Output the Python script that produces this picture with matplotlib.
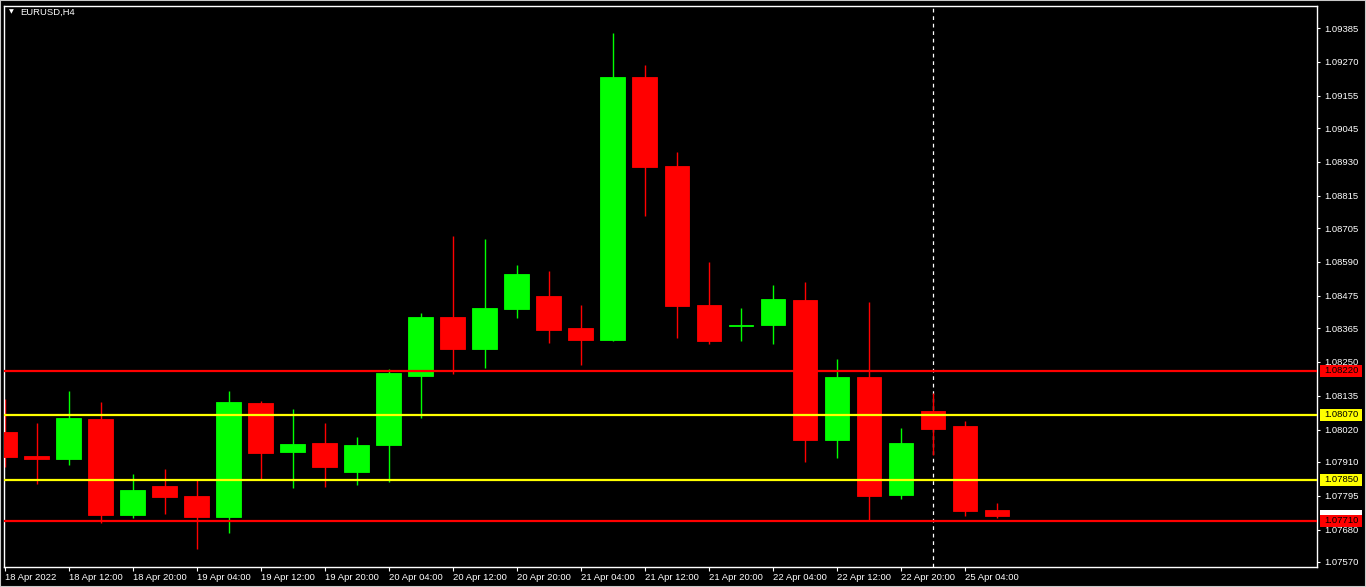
import matplotlib.pyplot as plt
from matplotlib.patches import Rectangle

plt.rcParams['font.family'] = ['Liberation Sans', 'DejaVu Sans']

symbol = 'EURUSD,H4'

# H4 bars, 18 Apr 04:00 .. 25 Apr 08:00
opens = [1.08012, 1.07930, 1.07920, 1.08056, 1.07730, 1.07828, 1.07794, 1.07723,
         1.08110, 1.07944, 1.07974, 1.07876, 1.07968, 1.08202, 1.08403, 1.08294,
         1.08430, 1.08474, 1.08365, 1.08325, 1.09218, 1.08916, 1.08443, 1.08372,
         1.08376, 1.08460, 1.07985, 1.08199, 1.07798, 1.08083, 1.08032, 1.07747]
highs = [1.08124, 1.08042, 1.08151, 1.08114, 1.07869, 1.07886, 1.07849, 1.08151,
         1.08117, 1.08090, 1.08042, 1.07995, 1.08226, 1.08416, 1.08678, 1.08668,
         1.08579, 1.08559, 1.08443, 1.09368, 1.09259, 1.08964, 1.08590, 1.08433,
         1.08511, 1.08522, 1.08260, 1.08454, 1.08025, 1.08144, 1.08049, 1.07771]
lows = [1.07893, 1.07835, 1.07900, 1.07703, 1.07720, 1.07733, 1.07614, 1.07669,
        1.07849, 1.07822, 1.07825, 1.07832, 1.07842, 1.08059, 1.08209, 1.08229,
        1.08399, 1.08314, 1.08240, 1.08321, 1.08746, 1.08331, 1.08311, 1.08321,
        1.08311, 1.07910, 1.07923, 1.07709, 1.07784, 1.07934, 1.07726, 1.07720]
closes = [1.07927, 1.07920, 1.08059, 1.07730, 1.07815, 1.07791, 1.07723, 1.08114,
          1.07940, 1.07971, 1.07893, 1.07968, 1.08212, 1.08403, 1.08294, 1.08433,
          1.08549, 1.08359, 1.08325, 1.09218, 1.08913, 1.08440, 1.08321, 1.08376,
          1.08464, 1.07985, 1.08199, 1.07794, 1.07974, 1.08022, 1.07743, 1.07726]

time_labels = ['18 Apr 2022', '18 Apr 12:00', '18 Apr 20:00', '19 Apr 04:00',
               '19 Apr 12:00', '19 Apr 20:00', '20 Apr 04:00', '20 Apr 12:00',
               '20 Apr 20:00', '21 Apr 04:00', '21 Apr 12:00', '21 Apr 20:00',
               '22 Apr 04:00', '22 Apr 12:00', '22 Apr 20:00', '25 Apr 04:00']

price_ticks = [1.09385, 1.09270, 1.09155, 1.09045, 1.08930, 1.08815, 1.08705,
               1.08590, 1.08475, 1.08365, 1.08250, 1.08135, 1.08020, 1.07910,
               1.07795, 1.07680, 1.07570]

levels = [1.08220, 1.08070, 1.07850, 1.07710]
level_colors = ['#ff0000', '#ffff00', '#ffff00', '#ff0000']
separator_bar = 29
bid = closes[-1]

W, H = 1366, 587
fig = plt.figure(figsize=(W / 100, H / 100), dpi=100, facecolor='black')
ax = fig.add_axes([4 / W, 20 / H, 1313 / W, 561 / H], facecolor='black')

up = '#00ff00'
down = '#ff0000'
for i in range(len(opens)):
    o, h, l, c = opens[i], highs[i], lows[i], closes[i]
    col = up if c >= o else down
    ax.vlines(i, l, h, color=col, lw=1, zorder=2)
    ax.bar(i, abs(c - o), bottom=min(o, c), width=0.78, color=col,
           edgecolor=col, linewidth=0.6, zorder=3)

for lv, col in zip(levels, level_colors):
    ax.axhline(lv, color=col, lw=1.6, zorder=4)

ax.axvline(separator_bar, color='white', lw=0.9, ls=(0, (3, 3)), zorder=1)

ax.set_xlim(-0.03, 41.0)
ax.set_ylim(1.07553, 1.09460)

ax.set_xticks(range(0, 32, 2))
ax.set_xticklabels(time_labels, ha='left')
ax.set_yticks(price_ticks)
ax.set_yticklabels(['%.5f' % p for p in price_ticks])
ax.yaxis.tick_right()
ax.tick_params(axis='both', colors='white', labelsize=6.8, width=0.8)
ax.tick_params(axis='y', length=2.5, pad=3)
ax.tick_params(axis='x', length=3, pad=1.5)
for s in ax.spines.values():
    s.set_color('white')
    s.set_linewidth(1)

# price tags of the lines on the right scale
tr = ax.get_yaxis_transform()
box_h = 12 * (1.09460 - 1.07553) / 561
box_x = (1320 - 4) / 1313
box_w = 42 / 1313
text_x = (1324 - 4) / 1313

# bid tag, almost fully hidden behind the 1.07710 tag
ax.add_patch(Rectangle((box_x, bid - box_h / 2), box_w, box_h, transform=tr,
                       fc='white', ec='none', clip_on=False, zorder=6))
for k, (lv, col) in enumerate(zip(levels, level_colors)):
    ax.add_patch(Rectangle((box_x, lv - box_h / 2), box_w, box_h, transform=tr,
                           fc=col, ec='none', clip_on=False, zorder=7 + k))
    ax.text(text_x, lv, '%.5f' % lv, transform=tr, ha='left', va='center',
            fontsize=6.8, color='black', clip_on=False, zorder=7 + k)

fig.text(9 / W, 1 - 12 / H, '\u25bc', color='white', fontsize=4.5,
         va='center', family='DejaVu Sans')
fig.text(20 / W, 1 - 12 / H, symbol, color='white', fontsize=6.8, va='center')

fig.add_artist(Rectangle((0, 0), 1, 1, transform=fig.transFigure, fill=False,
                         ec='#c8c8c8', lw=1.5))

fig.savefig('out.png', dpi=100, facecolor='black')
